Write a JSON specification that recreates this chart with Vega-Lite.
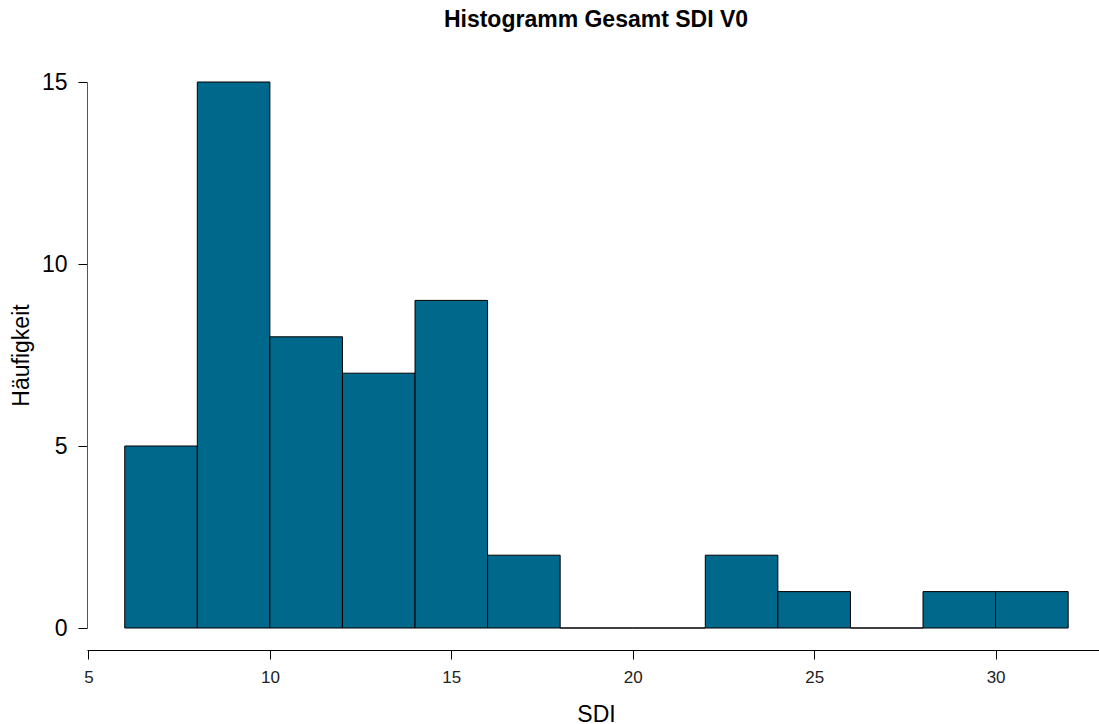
{
  "$schema": "https://vega.github.io/schema/vega-lite/v6.json",
  "autosize": {"type": "none"},
  "padding": {"left": 87, "top": 82, "right": 0, "bottom": 96},
  "width": 1012,
  "height": 546,
  "background": "white",
  "title": {
    "text": "Histogramm Gesamt SDI V0",
    "font": "Liberation Sans",
    "fontSize": 23,
    "fontWeight": "bold",
    "color": "black",
    "anchor": "middle",
    "baseline": "alphabetic",
    "offset": 21,
    "dx": 3
  },
  "config": {
    "view": {"stroke": null},
    "font": "Liberation Sans"
  },
  "data": {
    "values": [
      {"start": 6, "end": 8, "count": 5},
      {"start": 8, "end": 10, "count": 15},
      {"start": 10, "end": 12, "count": 8},
      {"start": 12, "end": 14, "count": 7},
      {"start": 14, "end": 16, "count": 9},
      {"start": 16, "end": 18, "count": 2},
      {"start": 18, "end": 20, "count": 0},
      {"start": 20, "end": 22, "count": 0},
      {"start": 22, "end": 24, "count": 2},
      {"start": 24, "end": 26, "count": 1},
      {"start": 26, "end": 28, "count": 0},
      {"start": 28, "end": 30, "count": 1},
      {"start": 30, "end": 32, "count": 1}
    ]
  },
  "mark": {"type": "rect", "fill": "#00688B", "stroke": "black", "strokeWidth": 1, "clip": false},
  "encoding": {
    "x": {
      "field": "start",
      "type": "quantitative",
      "scale": {"domain": [4.96, 32.85], "nice": false, "zero": false},
      "axis": {
        "values": [5, 10, 15, 20, 25, 30],
        "offset": 22,
        "grid": false,
        "domainColor": "black",
        "domainWidth": 1,
        "tickColor": "black",
        "tickSize": 9,
        "labelFontSize": 17,
        "labelColor": "#222",
        "labelPadding": 10,
        "labelFont": "Liberation Sans",
        "title": "SDI",
        "titleFont": "Liberation Sans",
        "titleFontSize": 23,
        "titleFontWeight": "normal",
        "titleColor": "black",
        "titleBaseline": "alphabetic",
        "titleX": 509,
        "titleY": 71
      }
    },
    "x2": {"field": "end"},
    "y": {
      "field": "count",
      "type": "quantitative",
      "scale": {"domain": [0, 15], "nice": false},
      "axis": {
        "values": [0, 5, 10, 15],
        "grid": false,
        "domainColor": "#555",
        "domainWidth": 1,
        "tickColor": "black",
        "tickSize": 9,
        "labelFontSize": 23,
        "labelColor": "black",
        "labelPadding": 11,
        "labelAngle": 0,
        "labelFont": "Liberation Sans",
        "title": "Häufigkeit",
        "titleFont": "Liberation Sans",
        "titleFontSize": 23,
        "titleFontWeight": "normal",
        "titleColor": "black",
        "titleAngle": -90,
        "titleBaseline": "alphabetic",
        "titleX": -59,
        "titleY": 273
      }
    },
    "y2": {"datum": 0}
  }
}
